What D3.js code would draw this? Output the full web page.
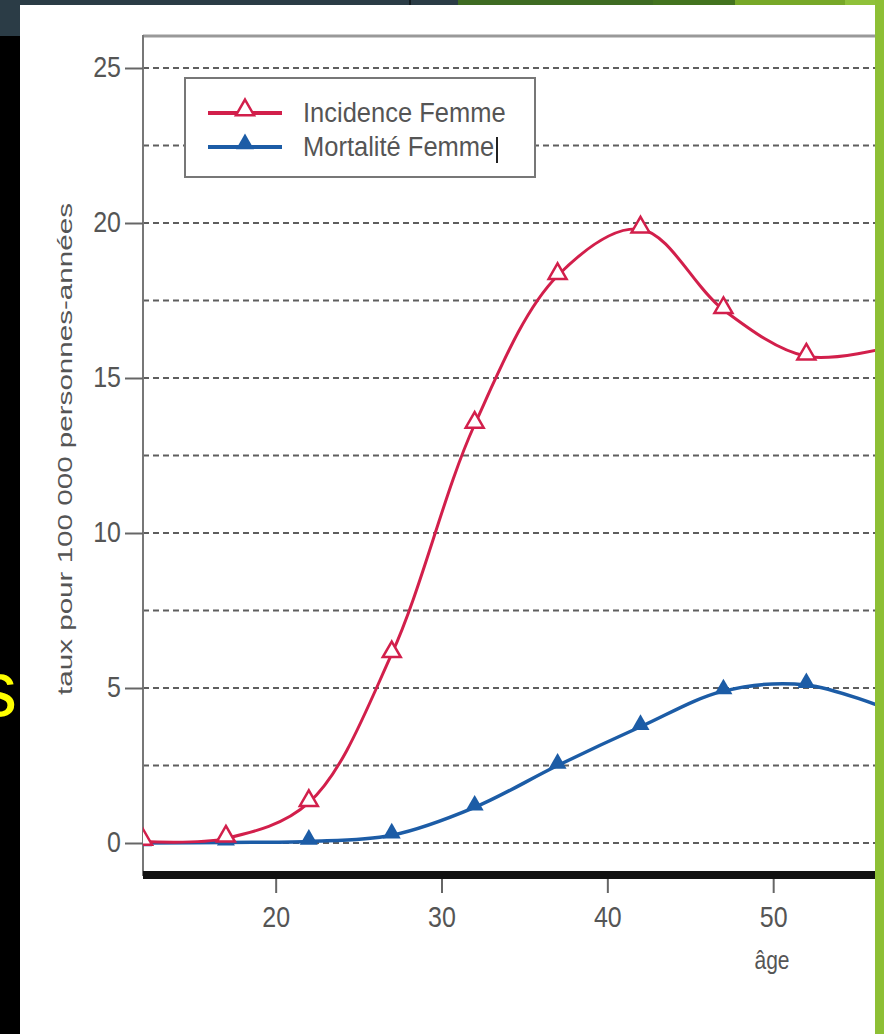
<!DOCTYPE html>
<html><head><meta charset="utf-8">
<script src="https://cdn.jsdelivr.net/npm/d3@7"></script>
<style>html,body{margin:0;padding:0;background:#000;}svg{display:block;}</style>
</head><body>
<svg id="c" width="884" height="1034"></svg>
<script>
// ---- data ----
const ages = [12, 17, 22, 27, 32, 37, 42, 47, 52, 57];
const incidenceFemme = [0.05, 0.15, 1.3, 6.1, 13.5, 18.3, 19.8, 17.2, 15.7, 16.0];
const mortaliteFemme = [0.0, 0.02, 0.05, 0.25, 1.15, 2.5, 3.75, 4.9, 5.1, 4.3];
const yTicks = [0, 5, 10, 15, 20, 25];
const yGrid = [0, 2.5, 5, 7.5, 10, 12.5, 15, 17.5, 20, 22.5, 25];
const xTicks = [20, 30, 40, 50];
const seriesNames = ["Incidence Femme", "Mortalité Femme"];
const yTitle = "taux pour 100 000 personnes-années";
const xTitle = "âge";

const svg = d3.select("#c");
const W = 884, H = 1034;

// ---- slide background ----
svg.append("rect").attr("x",0).attr("y",0).attr("width",W).attr("height",H).attr("fill","#000");
svg.append("rect").attr("x",0).attr("y",0).attr("width",458).attr("height",36).attr("fill","#2b3c46");
svg.append("rect").attr("x",409).attr("y",0).attr("width",2).attr("height",36).attr("fill","#141c20");
svg.append("rect").attr("x",458).attr("y",0).attr("width",195).attr("height",36).attr("fill","#3e6b22");
svg.append("rect").attr("x",653).attr("y",0).attr("width",82).attr("height",36).attr("fill","#43731f");
svg.append("rect").attr("x",735).attr("y",0).attr("width",110).attr("height",36).attr("fill","#77a828");
svg.append("rect").attr("x",845).attr("y",0).attr("width",39).attr("height",36).attr("fill","#8fc13a");
svg.append("text").attr("x",-22).attr("y",716).attr("font-family","Liberation Sans, Arial, sans-serif")
  .attr("font-size",78).attr("fill","#ffff00").text("s");
// white card
svg.append("rect").attr("x",20).attr("y",5).attr("width",856).attr("height",H-5).attr("fill","#fff");

// ---- scales ----
const x = d3.scaleLinear().domain([12, 56.2]).range([143, 876]);
const y = d3.scaleLinear().domain([0, 25]).range([843, 68]);

const font = "Liberation Sans, Arial, sans-serif";
const grey = "#555";

svg.append("defs").append("clipPath").attr("id","plotclip")
  .append("rect").attr("x",143).attr("y",30).attr("width",733).attr("height",850);

// gridlines
svg.append("g").selectAll("line").data(yGrid).join("line")
  .attr("x1",143).attr("x2",876)
  .attr("y1",d=>y(d)).attr("y2",d=>y(d))
  .attr("stroke","#5e5e5e").attr("stroke-width",2).attr("stroke-dasharray","6,4");

// frame top & left axis
svg.append("line").attr("x1",143).attr("x2",876).attr("y1",36).attr("y2",36)
  .attr("stroke","#999").attr("stroke-width",3);
svg.append("line").attr("x1",143).attr("x2",143).attr("y1",35).attr("y2",876)
  .attr("stroke","#777").attr("stroke-width",2);

// y axis ticks + labels
const yAxis = d3.axisLeft(y).tickValues(yTicks).tickSize(18).tickPadding(4);
const ya = svg.append("g").attr("transform","translate(143,0)").call(yAxis);
ya.select(".domain").remove();
ya.selectAll("line").attr("stroke","#666").attr("stroke-width",2);
ya.selectAll("text").attr("font-family",font).attr("font-size",25).attr("fill",grey)
  .attr("transform","scale(1,1.15)").attr("dy","0.28em");

// x axis thick baseline
svg.append("line").attr("x1",143).attr("x2",876).attr("y1",875).attr("y2",875)
  .attr("stroke","#111").attr("stroke-width",8);
const xAxis = d3.axisBottom(x).tickValues(xTicks).tickSize(14).tickPadding(12).tickFormat(d3.format("d"));
const xa = svg.append("g").attr("transform","translate(0,879)").call(xAxis);
xa.select(".domain").remove();
xa.selectAll("line").attr("stroke","#666").attr("stroke-width",2);
xa.selectAll("text").attr("font-family",font).attr("font-size",25).attr("fill",grey)
  .attr("transform","scale(1,1.15)").attr("dy","0.62em");

// axis titles
svg.append("text").attr("transform","translate(772,969) scale(1,1.25)").attr("text-anchor","middle")
  .attr("font-family",font).attr("font-size",21).attr("fill",grey).text(xTitle);
svg.append("text").attr("transform","translate(72,449) rotate(-90) scale(1.48,1)")
  .attr("text-anchor","middle").attr("font-family",font).attr("font-size",20)
  .attr("fill",grey).text(yTitle);

// ---- series ----
const red = "#d21f4b", blue = "#1c5ca6";
const plot = svg.append("g").attr("clip-path","url(#plotclip)");
const line = (vals) => d3.line().x((d,i)=>x(ages[i])).y(d=>y(d)).curve(d3.curveCatmullRom.alpha(0.5))(vals);
const tri = d3.symbol().type(d3.symbolTriangle).size(140);

plot.append("path").attr("d",line(mortaliteFemme)).attr("fill","none").attr("stroke",blue).attr("stroke-width",3.5);
plot.append("path").attr("d",line(incidenceFemme)).attr("fill","none").attr("stroke",red).attr("stroke-width",3);

plot.selectAll(".mm").data(mortaliteFemme).join("path").attr("class","mm")
  .attr("d",tri).attr("transform",(d,i)=>`translate(${x(ages[i])},${y(d)-2})`)
  .attr("fill",blue);
plot.selectAll(".im").data(incidenceFemme).join("path").attr("class","im")
  .attr("d",tri).attr("transform",(d,i)=>`translate(${x(ages[i])},${y(d)-2})`)
  .attr("fill","#fff").attr("stroke",red).attr("stroke-width",2.5);

// ---- legend ----
const lg = svg.append("g");
lg.append("rect").attr("x",185).attr("y",78).attr("width",350).attr("height",99)
  .attr("fill","#fff").attr("stroke","#777").attr("stroke-width",2);
const legendRows = [
  {name: seriesNames[0], color: red, open: true, yy: 113},
  {name: seriesNames[1], color: blue, open: false, yy: 147}
];
legendRows.forEach(r => {
  lg.append("line").attr("x1",208).attr("x2",282).attr("y1",r.yy).attr("y2",r.yy)
    .attr("stroke",r.color).attr("stroke-width",4);
  lg.append("path").attr("d",tri).attr("transform",`translate(245,${r.yy-3})`)
    .attr("fill",r.open?"#fff":r.color).attr("stroke",r.open?r.color:"none").attr("stroke-width",2.5);
  lg.append("text").attr("transform",`translate(303,${r.yy+9}) scale(1,1.1)`)
    .attr("font-family",font).attr("font-size",25.5)
    .attr("fill","#555").text(r.name);
});
lg.append("line").attr("x1",497).attr("x2",497).attr("y1",137).attr("y2",163)
  .attr("stroke","#222").attr("stroke-width",2);

// right green bar
svg.append("rect").attr("x",875).attr("y",0).attr("width",9).attr("height",H).attr("fill","#8dbf35");
</script>
</body></html>
